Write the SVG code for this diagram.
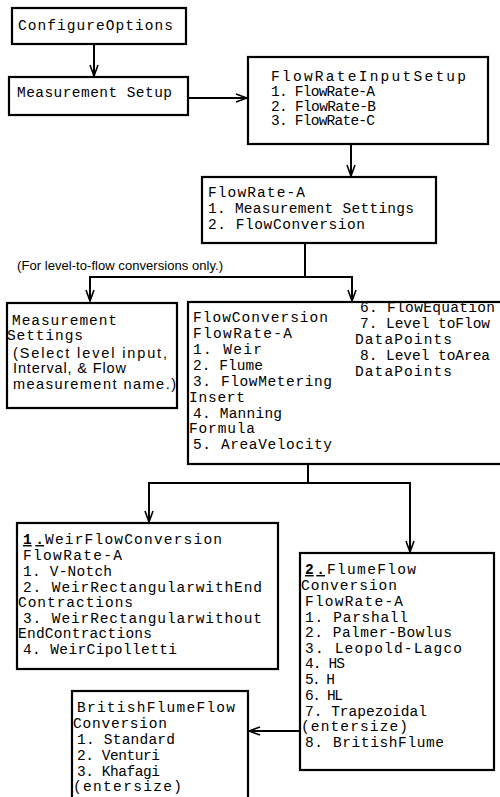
<svg xmlns="http://www.w3.org/2000/svg" width="500" height="797" viewBox="0 0 500 797">
<style>
.box{fill:#fff;stroke:#000;stroke-width:2.2}
.t{font-family:"Liberation Mono","DejaVu Sans Mono",monospace;font-size:14.5px;fill:#000}
.b{font-weight:bold;text-decoration:underline}
.s{font-family:"Liberation Sans",Arial,sans-serif;font-size:14.5px;fill:#000}
.lbl{font-family:"Liberation Sans",Arial,sans-serif;font-size:13px;fill:#000}
.conn path{fill:none;stroke:#000;stroke-width:2;marker-end:url(#arr)}
</style>
<defs>
<marker id="arr" markerUnits="userSpaceOnUse" markerWidth="14" markerHeight="12" viewBox="0 0 14 12" refX="12" refY="6" orient="auto">
<path d="M1,2 L12,6 L1,10" fill="none" stroke="#000" stroke-width="1.6"/>
</marker>
</defs>
<rect width="500" height="797" fill="#fff"/>

<g class="conn" id="connectors">
<path d="M94,44 V76"/>
<path d="M188,98 H247"/>
<path d="M351,144 V176"/>
<path d="M305,243 V277 H90 V301"/>
<path d="M305,277 H352 V301"/>
<path d="M308,464 V483 H149 V522"/>
<path d="M308,483 H410 V552"/>
<path d="M300,731 H249"/>
</g>

<text class="lbl" x="17" y="270" textLength="206">(For level-to-flow conversions only.)</text>

<g id="configure-options">
<rect class="box" x="12" y="8" width="174" height="36"/>
<text class="t" x="18" y="30" textLength="155">ConfigureOptions</text>
</g>

<g id="measurement-setup">
<rect class="box" x="9" y="77" width="179" height="38"/>
<text class="t" x="17" y="97" textLength="155">Measurement Setup</text>
</g>

<g id="flowrate-input-setup">
<rect class="box" x="248" y="57" width="240" height="87"/>
<text class="t" x="271" y="80.5" textLength="195">FlowRateInputSetup</text>
<text class="t" x="271" y="95.5" textLength="104">1. FlowRate-A</text>
<text class="t" x="271" y="110.5" textLength="105">2. FlowRate-B</text>
<text class="t" x="271" y="125" textLength="104">3. FlowRate-C</text>
</g>

<g id="flowrate-a">
<rect class="box" x="202" y="177" width="234" height="66"/>
<text class="t" x="208" y="197" textLength="97">FlowRate-A</text>
<text class="t" x="208" y="213" textLength="206">1. Measurement Settings</text>
<text class="t" x="208" y="229" textLength="157">2. FlowConversion</text>
</g>

<g id="measurement-settings">
<rect class="box" x="7" y="303" width="170" height="105"/>
<text class="t" x="12" y="324.5" textLength="105">Measurement</text>
<text class="t" x="7" y="339.5" textLength="76">Settings</text>
<text class="s" x="13" y="357.5" textLength="154">(Select level input,</text>
<text class="s" x="13" y="373" textLength="113">Interval, &amp; Flow</text>
<text class="s" x="13" y="389" textLength="163">measurement name.)</text>
</g>

<g id="flow-conversion">
<rect class="box" x="188" y="302" width="316" height="162"/>
<text class="t" x="193" y="322" textLength="135">FlowConversion</text>
<text class="t" x="193" y="338" textLength="99">FlowRate-A</text>
<text class="t" x="193" y="354" textLength="69">1. Weir</text>
<text class="t" x="193" y="370" textLength="70">2. Flume</text>
<text class="t" x="193" y="386" textLength="139">3. FlowMetering</text>
<text class="t" x="189" y="402" textLength="56">Insert</text>
<text class="t" x="193" y="418" textLength="89">4. Manning</text>
<text class="t" x="189" y="433" textLength="66">Formula</text>
<text class="t" x="193" y="449" textLength="139">5. AreaVelocity</text>
<text class="t" x="360" y="312" textLength="135">6. FlowEquation</text>
<text class="t" x="360" y="328" textLength="130">7. Level toFlow</text>
<text class="t" x="355" y="344" textLength="97">DataPoints</text>
<text class="t" x="360" y="360" textLength="130">8. Level toArea</text>
<text class="t" x="355" y="376" textLength="97">DataPoints</text>
</g>

<g id="weir-flow-conversion">
<rect class="box" x="17" y="523" width="261" height="146"/>
<text class="t b" x="23" y="544" textLength="21">1.</text>
<text class="t" x="45" y="544" textLength="177">WeirFlowConversion</text>
<text class="t" x="23" y="560" textLength="99">FlowRate-A</text>
<text class="t" x="23" y="575.5" textLength="89">1. V-Notch</text>
<text class="t" x="23" y="591.5" textLength="239">2. WeirRectangularwithEnd</text>
<text class="t" x="18" y="607" textLength="115">Contractions</text>
<text class="t" x="23" y="622.5" textLength="239">3. WeirRectangularwithout</text>
<text class="t" x="18" y="638" textLength="134">EndContractions</text>
<text class="t" x="23" y="654" textLength="154">4. WeirCipolletti</text>
</g>

<g id="flume-flow-conversion">
<rect class="box" x="300" y="553" width="194" height="217"/>
<text class="t b" x="305" y="574" textLength="20">2.</text>
<text class="t" x="327" y="574" textLength="89">FlumeFlow</text>
<text class="t" x="301" y="589.5" textLength="96">Conversion</text>
<text class="t" x="305" y="605.5" textLength="98">FlowRate-A</text>
<text class="t" x="305" y="621.5" textLength="103">1. Parshall</text>
<text class="t" x="305" y="637" textLength="147">2. Palmer-Bowlus</text>
<text class="t" x="305" y="652.5" textLength="157">3. Leopold-Lagco</text>
<text class="t" x="305" y="668" textLength="40">4. HS</text>
<text class="t" x="305" y="684" textLength="30">5. H</text>
<text class="t" x="305" y="700" textLength="38">6. HL</text>
<text class="t" x="305" y="715.5" textLength="122">7. Trapezoidal</text>
<text class="t" x="301" y="731" textLength="107">(entersize)</text>
<text class="t" x="305" y="747" textLength="139">8. BritishFlume</text>
</g>

<g id="british-flume-flow-conversion">
<rect class="box" x="72" y="691" width="176" height="130"/>
<text class="t" x="77" y="712" textLength="158">BritishFlumeFlow</text>
<text class="t" x="73" y="728" textLength="94">Conversion</text>
<text class="t" x="77" y="744" textLength="98">1. Standard</text>
<text class="t" x="77" y="760" textLength="83">2. Venturi</text>
<text class="t" x="77" y="775.5" textLength="83">3. Khafagi</text>
<text class="t" x="73" y="791" textLength="109">(entersize)</text>
</g>
</svg>
